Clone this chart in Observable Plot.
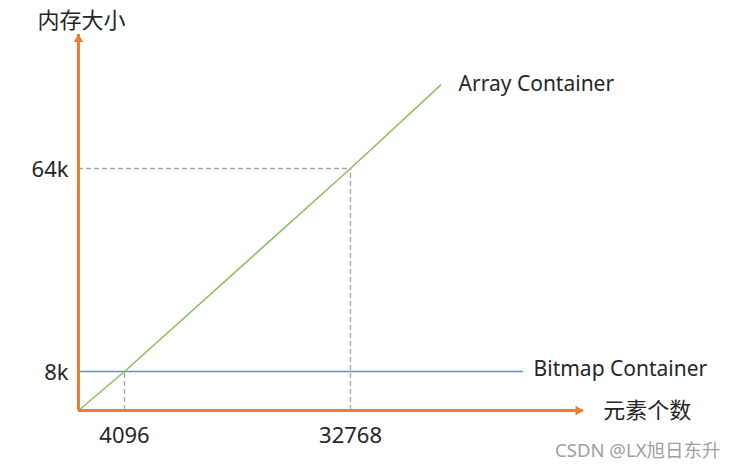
<!DOCTYPE html>
<html><head><meta charset="utf-8">
<script src="https://cdn.jsdelivr.net/npm/d3@7"></script>
<script src="https://cdn.jsdelivr.net/npm/@observablehq/plot@0.6"></script>
<style>
body{margin:0;background:#fff;}
#chart svg{display:block;}
</style>
</head><body><div id="chart"></div>
<script>
// data (schematic: memory size vs number of elements)
const arrayElements = [0, 4096, 32768, 44200];
const arrayMemoryK  = [0, 8, 64, 87];
const bitmapElements = [0, 54600];
const bitmapMemoryK  = [8, 8];
const xTicks = [4096, 32768];
const xTickLabels = ["4096", "32768"];
const yTicks = [8, 64];
const yTickLabels = ["8k", "64k"];
const xAxisEnd = 62300;
const yAxisEnd = 101;
const xTitle = "元素个数";
const yTitle = "内存大小";
const seriesNames = ["Array Container", "Bitmap Container"];
const watermark = "CSDN @LX旭日东升";

const arrayData = arrayElements.map((n, i) => ({n, m: arrayMemoryK[i]}));
const bitmapData = bitmapElements.map((n, i) => ({n, m: bitmapMemoryK[i]}));
const xTickData = xTicks.map((v, i) => ({v, label: xTickLabels[i]}));
const yTickData = yTicks.map((v, i) => ({v, label: yTickLabels[i]}));

const font = '"Noto Sans", "Noto Sans CJK SC", sans-serif';
const textColor = "#262626";
const orange = "#ED7D31";
const green = "#8CC068";
const blue = "#4F95D8";
const dashGray = "#A6A6A6";

const chart = Plot.plot({
  width: 736, height: 468,
  marginTop: 0, marginRight: 0, marginBottom: 0, marginLeft: 0,
  style: {fontFamily: font, background: "#fff", color: textColor},
  x: {type: "linear", domain: [0, 4096, 32768], range: [78, 124, 350], axis: null, clamp: false},
  y: {type: "linear", domain: [0, 8, 64], range: [410, 371, 168], axis: null, clamp: false},
  marks: [
    // guide dashes
    Plot.ruleX(xTickData, {x: "v", y1: 0, y2: d => arrayMemoryK[arrayElements.indexOf(d.v)], stroke: dashGray, strokeWidth: 1.3, strokeDasharray: "5,3"}),
    Plot.ruleY([yTicks[1]], {y: d => d, x1: 0, x2: xTicks[1], stroke: dashGray, strokeWidth: 1.3, strokeDasharray: "5,3"}),
    // series
    Plot.line(bitmapData, {x: "n", y: "m", stroke: blue, strokeWidth: 1.4}),
    Plot.line(arrayData, {x: "n", y: "m", stroke: green, strokeWidth: 1.6}),
    Plot.text([bitmapData[bitmapData.length - 1]], {x: "n", y: "m", text: () => seriesNames[1], textAnchor: "start", dx: 11, dy: -2, fontSize: 21, fill: textColor}),
    Plot.text([arrayData[arrayData.length - 1]], {x: "n", y: "m", text: () => seriesNames[0], textAnchor: "start", dx: 18, dy: -1, fontSize: 21, fill: textColor}),
    // axes
    Plot.ruleY([0], {x1: 0, x2: xAxisEnd, stroke: orange, strokeWidth: 3}),
    Plot.ruleX([0], {y1: 0, y2: yAxisEnd, stroke: orange, strokeWidth: 3}),
    Plot.dot([{x: xAxisEnd, y: 0}], {x: "x", y: "y", symbol: "triangle", r: 3.5, rotate: 90, dx: -5, fill: orange, stroke: null}),
    Plot.dot([{x: 0, y: yAxisEnd}], {x: "x", y: "y", symbol: "triangle", r: 3.5, rotate: 0, dy: 5, fill: orange, stroke: null}),
    // tick labels
    Plot.text(xTickData, {x: "v", y: 0, text: "label", dy: 25, fontSize: 22, fill: textColor}),
    Plot.text(yTickData, {x: 0, y: "v", text: "label", textAnchor: "end", dx: -10, dy: 1, fontSize: 22, fill: textColor}),
    // axis titles
    Plot.text([yTitle], {x: 0, y: yAxisEnd, text: d => d, dx: 3, dy: -13, fontSize: 22, fill: textColor}),
    Plot.text([xTitle], {x: xAxisEnd, y: 0, text: d => d, textAnchor: "start", dx: 20, fontSize: 22, fill: textColor}),
    // watermark
    Plot.text([watermark], {frameAnchor: "bottom-right", text: d => d, dx: -16, dy: -12, fontSize: 18.5, fill: "#A0A0A0"})
  ]
});
document.getElementById("chart").appendChild(chart);
</script>
</body></html>
